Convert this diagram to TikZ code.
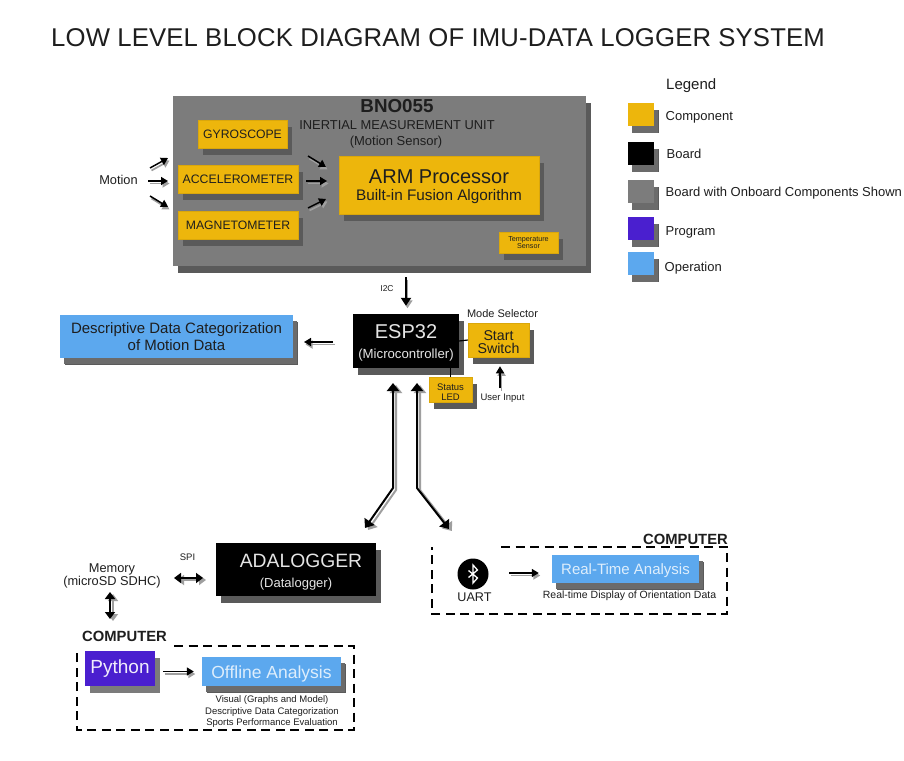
\documentclass[tikz,border=0pt]{standalone}
\usepackage{fontspec}
\setmainfont{Liberation Sans}
\usetikzlibrary{shadows,arrows.meta,calc}
\definecolor{cyel}{HTML}{EDB60C}
\definecolor{cgry}{HTML}{7C7C7C}
\definecolor{cpur}{HTML}{4A1FCF}
\definecolor{cblu}{HTML}{5CA8EE}
\definecolor{cshd}{HTML}{5A5A5A}
\definecolor{ctxt}{HTML}{1E1E1E}
\newdimen\fsb
\newcommand{\fs}[1]{\fsb=#1pt \fsb=1.16\fsb \fontsize{#1}{\the\fsb}\selectfont}
\newcommand{\tall}[1]{\rule{0pt}{#1pt}}
\tikzset{
  x=1pt,y=-1pt,
  boxbase/.style={inner sep=0pt,align=center,text=ctxt,
    general shadow={shadow xshift=5pt,shadow yshift=-7pt,fill=cshd,draw=none}},
  comp/.style={boxbase,fill=cyel,draw=cyel!92!black,line width=.5},
  board/.style={boxbase,fill=black,text=white!90!black},
  imu/.style={boxbase,fill=cgry},
  prog/.style={boxbase,fill=cpur,text=white!92!cpur,general shadow={shadow xshift=5pt,shadow yshift=-7pt,fill=cshd!80,draw=none}},
  oper/.style={boxbase,fill=cblu,general shadow={shadow xshift=4pt,shadow yshift=-6pt,fill=cshd!90,draw=none}},
  operw/.style={oper,text=white!80!cblu},
  swatch/.style={boxbase,minimum width=26,minimum height=23,general shadow={shadow xshift=4pt,shadow yshift=-7pt,fill=cshd!90,draw=none}},
  lbl/.style={inner sep=0pt,align=center,text=ctxt},
  lft/.style={inner sep=0pt,anchor=west,text=ctxt},
  arr/.style={-{Triangle[length=7,width=8]},line width=1.5,black,
    preaction={draw=gray!75,line width=1.7,transform canvas={xshift=1.5pt,yshift=-2.5pt}}},
  arrb/.style={{Triangle[length=7,width=10]}-{Triangle[length=7,width=10]},line width=1.7,black,
    preaction={draw=gray!75,line width=2,transform canvas={xshift=3pt,yshift=-2pt}}},
  arrt/.style={{Triangle[length=8,width=12]}-{Triangle[length=8,width=12]},line width=2,black,line join=miter,
    preaction={draw=gray!75,line width=2,transform canvas={xshift=3pt,yshift=-2pt}}},
  dashbox/.style={black,line width=1.7,dash pattern=on 9 off 5.5},
  wire/.style={black,line width=1.2}
}
\begin{document}
\begin{tikzpicture}
\useasboundingbox (0,0) rectangle (904,760);
\fill[white] (0,0) rectangle (904,760);
% Title
\node[lft,anchor=base west] (title) at (51,47) {\fs{25.7}\addfontfeature{LetterSpace=0.6}LOW LEVEL BLOCK DIAGRAM OF IMU-DATA LOGGER SYSTEM};
% IMU board
\node[imu,minimum width=413,minimum height=170] (bno) at (379.5,181) {};
\node[lbl,font=\bfseries] (bnot) at (397,106.5) {\fs{18.8}BNO055};
\node[lbl] (imut) at (397,125) {\fs{12.9}INERTIAL MEASUREMENT UNIT};
\node[lbl] (mst) at (396,142) {\fs{13}(Motion Sensor)};
\node[comp,minimum width=89,minimum height=28] (gyro) at (242.5,134) {\fs{12.2}GYROSCOPE};
\node[comp,minimum width=120,minimum height=28] (acc) at (238,179) {\fs{12.3}ACCELEROMETER};
\node[comp,minimum width=120,minimum height=28] (mag) at (238,225) {\fs{12.2}MAGNETOMETER};
\node[comp,minimum width=200,minimum height=58,font={\fs{20}}] (arm) at (439,185) {\tall{17.6}ARM Processor\\[-6pt]\fs{15.3}Built-in Fusion Algorithm};
\node[comp,minimum width=59,minimum height=21,font={\fs{7.2}}] (temp) at (528.5,242.5) {Temperature\\[-1pt]Sensor};
% Motion
\node[lbl] (motion) at (118.5,180) {\fs{12.8}Motion};
\coordinate (ma1) at (150,168); \coordinate (mb1) at (168,158);
\coordinate (ma2) at (148,181); \coordinate (mb2) at (168,181);
\coordinate (ma3) at (150,196); \coordinate (mb3) at (168,207);
\coordinate (pa1) at (308,156); \coordinate (pb1) at (326,167);
\coordinate (pa2) at (306,181); \coordinate (pb2) at (327,181);
\coordinate (pa3) at (308,208); \coordinate (pb3) at (326,199);
\foreach \k in {1,2,3}{\draw[arr] (ma\k) -- (mb\k); \draw[arr] (pa\k) -- (pb\k);}
% ESP32
\node[board,minimum width=106,minimum height=54,font={\fs{20}}] (esp) at (406,341) {\tall{17.6}ESP32\\[-3pt]\fs{13.2}(Microcontroller)};
\node[comp,minimum width=61,minimum height=34,font={\fs{14.2}}] (start) at (498.5,340) {\tall{14.4}Start\\[-3pt]Switch};
\node[comp,minimum width=43,minimum height=25,font={\fs{9.5}}] (led) at (450.5,389.5) {\tall{12}Status\\[-2pt]LED};
\draw[wire] (esp.east) -- (start.west);
\draw[wire] (led.north |- esp.south) -- (led.north);
\node[lbl] (i2c) at (387,289) {\fs{8.5}I2C};
\draw[arr,line width=2,-{Triangle[length=8,width=10]}] ([xshift=26.5,yshift=-11]bno.south) -- ([yshift=8]esp.north);
\node[lbl] (mode) at (502.5,313.5) {\fs{11}Mode Selector};
\node[lbl] (user) at (502.5,398) {\fs{9.5}User Input};
\coordinate (ua) at (500,388);
\draw[arr] (ua) -- ([xshift=1.5,yshift=-9]start.south);
% Descriptive
\node[oper,minimum width=233,minimum height=43,font={\fs{15}}] (desc) at (176.5,336.5) {Descriptive Data Categorization\\[-1pt]of Motion Data};
\coordinate (da) at (333,342); \coordinate (db) at (304,342);
\draw[arr] (da) -- (db);
% Adalogger
\node[board,minimum width=160,minimum height=53,font={\fs{19.3}}] (ada) at (296,569.5) {\tall{19}\hspace{10pt}ADALOGGER\\[-2pt]\fs{13}(Datalogger)};
\coordinate (ta1) at (393,383); \coordinate (tm1) at (393,488); \coordinate (tb1) at (365,528);
\coordinate (ta2) at (417,383); \coordinate (tm2) at (417,488); \coordinate (tb2) at (449,529);
\draw[arrt] (ta1) -- (tm1) -- (tb1);
\draw[arrt] (ta2) -- (tm2) -- (tb2);
% Memory
\node[lbl,font={\fs{12.8}}] (mem) at (112,575.5) {Memory\\[-2pt](microSD SDHC)};
\node[lbl] (spi) at (187.5,557) {\fs{9.5}SPI};
\coordinate (sa) at (174,578); \coordinate (sb) at (203,578);
\draw[arrb] (sa) -- (sb);
\coordinate (oa) at (110,592); \coordinate (ob) at (110,619);
\draw[arrb] (oa) -- (ob);
% Offline computer
\node[lbl,font=\bfseries,anchor=west] (comp1) at (82,636) {\fs{14.8}COMPUTER};
\draw[dashbox] (174,646) -- (354,646) -- (354,730) -- (77,730) -- (77,648);
\node[prog,minimum width=70,minimum height=35] (py) at (120,668.5) {\fs{19}Python};
\node[operw,minimum width=139,minimum height=29] (off) at (271.5,671.5) {\fs{17.5}\tall{17}Offline Analysis};
\draw[arr] ([xshift=8,yshift=-3]py.east) -- ([xshift=-8]off.west);
\node[lbl,font={\fs{9.5}}] (offt) at (272,712) {Visual (Graphs and Model)\\[.5pt]Descriptive Data Categorization\\[.5pt]Sports Performance Evaluation};
% Realtime computer
\node[lbl,font=\bfseries,anchor=east] (comp2) at (728,539.5) {\fs{14.8}COMPUTER};
\draw[dashbox] (501,547) -- (727,547) -- (727,614) -- (432,614) -- (432,547);
\node[circle,fill=black,minimum size=31,inner sep=0pt] (bt) at (473,574) {};
\draw[white,line width=1.3,line join=miter] ([shift={(-4.5,3.5)}]bt.center) -- ([shift={(4.5,-4)}]bt.center) -- ([shift={(0,-9)}]bt.center) -- ([shift={(0,9)}]bt.center) -- ([shift={(4.5,4)}]bt.center) -- ([shift={(-4.5,-3.5)}]bt.center);
\node[lbl] (uart) at (474.5,597) {\fs{12.6}UART};
\node[operw,minimum width=147,minimum height=28] (rt) at (625.5,569) {\fs{15}\tall{15}Real-Time Analysis};
\draw[arr] ([xshift=36,yshift=1]bt.center) -- ([xshift=-13,yshift=-4]rt.west);
\node[lbl] (rtt) at (629.5,596) {\fs{10.5}Real-time Display of Orientation Data};
% Legend
\node[lbl,anchor=west] (leg) at (666,86) {\fs{15}Legend};
\node[swatch,fill=cyel] (s1) at (641,114.5) {};
\node[swatch,fill=black] (s2) at (641,153.5) {};
\node[swatch,fill=cgry] (s3) at (641,191) {};
\node[swatch,fill=cpur] (s4) at (641,228.5) {};
\node[swatch,fill=cblu] (s5) at (641,263.5) {};
\node[lft] (l1) at (665.5,117) {\fs{13}Component};
\node[lft] (l2) at (666.5,154) {\fs{13}Board};
\node[lft] (l3) at (665.5,193) {\fs{13}Board with Onboard Components Shown};
\node[lft] (l4) at (665.5,232) {\fs{13}Program};
\node[lft] (l5) at (664.5,268) {\fs{13}Operation};
\end{tikzpicture}
\end{document}
